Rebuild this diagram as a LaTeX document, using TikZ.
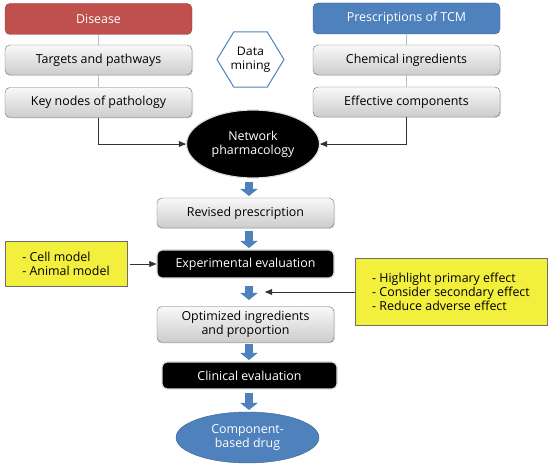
\documentclass[tikz,border=0pt]{standalone}
\usepackage{fontspec}
\setmainfont{Open Sans}
\usepackage{xcolor}
\usepackage{tikz}
\usetikzlibrary{arrows,arrows.meta,shapes.geometric,shadows}

\definecolor{diseasered}{RGB}{192,80,77}
\definecolor{tcmblue}{RGB}{79,129,189}
\definecolor{noteyellow}{RGB}{242,240,60}
\definecolor{framegray}{RGB}{110,110,110}

\tikzset{
  headbox/.style={rectangle,rounded corners=5pt,minimum width=187pt,minimum height=31pt,text=white,draw=#1!75!black,fill=#1},
  graybox/.style={rectangle,rounded corners=5pt,minimum width=187pt,minimum height=30pt,draw=framegray,top color=gray!5,bottom color=gray!40,
    drop shadow={opacity=0.25,shadow xshift=1pt,shadow yshift=-1pt}},
  blackbox/.style={rectangle,rounded corners=5pt,minimum width=177pt,minimum height=28pt,fill=black,draw=gray!25,line width=1.2pt,text=white},
  notebox/.style={rectangle,draw=framegray,fill=noteyellow,align=left,inner sep=6pt},
  blockarrow/.style={draw=tcmblue,line width=8pt,-{Triangle[length=7pt,width=17pt]},shorten <=3pt,shorten >=2pt},
  feed/.style={draw=black!80,line width=0.6pt,->}
}

\begin{document}
\begin{tikzpicture}[x=1pt,y=-1pt,>=triangle 45,font=\fontsize{12.4}{14.2}\selectfont]
        \useasboundingbox (0,0) rectangle (550,468);

        % Disease side.
        \node[headbox=diseasered] (dis) at (98.5,19) {Disease};
        \node[graybox] (tgt) at (98.5,60) {Targets and pathways};
        \node[graybox] (key) at (98.5,102.5) {Key nodes of pathology};
        \draw[tcmblue!50] (dis.south) -- (tgt.north);
        \draw[tcmblue!50] (tgt.south) -- (key.north);

        % TCM side.
        \node[headbox=tcmblue] (tcm) at (406.5,18.5) {Prescriptions of TCM};
        \node[graybox] (chem) at (406.5,60) {Chemical ingredients};
        \node[graybox] (eff) at (406.5,102) {Effective components};
        \draw[tcmblue!50] (tcm.south) -- (chem.north);
        \draw[tcmblue!50] (chem.south) -- (eff.north);

        % Data mining.
        \node[regular polygon,regular polygon sides=6,minimum size=67pt,inner sep=0pt,draw=tcmblue,line width=1pt,fill=white,align=center,yscale=0.95] (dm) at (250.5,59.5) {Data\\mining};

        % Network pharmacology.
        \node[ellipse,minimum width=133pt,minimum height=68pt,fill=black,draw=gray!25,line width=1.2pt,text=white,align=center,inner sep=0pt] (np) at (253,144) {Network\\pharmacology};
        \draw[feed] (key.south) |- (np.west);
        \draw[feed] (eff.south) |- (np.east);

        % Main column.
        \node[graybox,minimum width=177pt] (rev) at (245.5,213) {Revised prescription};
        \node[blackbox] (exp) at (245.5,264) {Experimental evaluation};
        \node[graybox,minimum width=177pt,minimum height=36pt,align=center] (opt) at (245.5,324.5) {Optimized ingredients\\and proportion};
        \node[blackbox,minimum width=175pt,minimum height=27pt] (clin) at (249.5,375.5) {Clinical evaluation};
        \node[ellipse,minimum width=143pt,minimum height=51pt,fill=tcmblue,draw=tcmblue!75!black,text=white,align=center,inner sep=0pt] (drug) at (247.5,437.5) {Component-\\based drug};

        % Block arrows.
        \draw[blockarrow] (np.south -| 249,0) -- (249,198);
        \draw[blockarrow] (rev.south -| 249,0) -- (249,250);
        \draw[blockarrow,shorten <=7pt,shorten >=7pt] (exp.south -| 249,0) -- (249,307);
        \draw[blockarrow,shorten <=1pt] (opt.south -| 249,0) -- (249,362);
        \draw[blockarrow] (clin.south -| 249,0) -- (249,412);

        % Notes.
        \node[notebox,minimum width=122pt,minimum height=45pt] (cell) at (66,264) {- Cell model\\- Animal model};
        \draw[feed,shorten <=3pt] (cell.east) -- (exp.west);
        \node[notebox,minimum width=192pt,minimum height=67pt] (tune) at (451,292) {- Highlight primary effect\\- Consider secondary effect\\- Reduce adverse effect};
        \coordinate (join) at (265,292);
        \draw[feed] (tune.west) -- (join);
    \end{tikzpicture}
\end{document}
